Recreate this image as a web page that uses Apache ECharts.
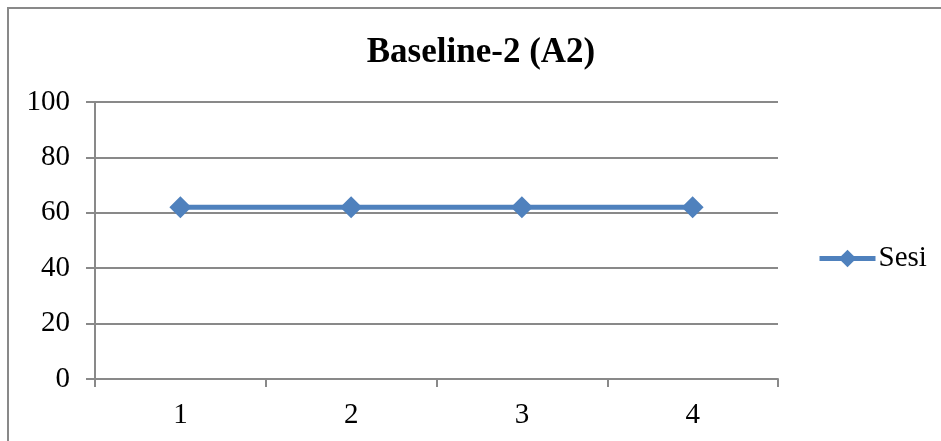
<!DOCTYPE html>
<html>
<head>
<meta charset="utf-8">
<script src="https://cdn.jsdelivr.net/npm/echarts@6/dist/echarts.min.js"></script>
<style>
html,body{margin:0;padding:0;background:#fff;}
#c{width:941px;height:441px;}
</style>
</head>
<body>
<div id="c"></div>
<script>
const titleText = 'Baseline-2 (A2)';
const categories = ['1', '2', '3', '4'];
const seriesName = 'Sesi';
const sesiValues = [62, 62, 62, 62];
const yMin = 0, yMax = 100, yStep = 20;

const gray = '#898989';
const blue = '#4F81BD';
const font = '"Liberation Serif", "Times New Roman", serif';

const chart = echarts.init(document.getElementById('c'), null, {renderer: 'canvas'});
chart.setOption({
  animation: false,
  backgroundColor: '#fff',
  graphic: [{
    type: 'rect',
    shape: {x: 8, y: 8, width: 1200, height: 1200},
    style: {fill: 'none', stroke: gray, lineWidth: 2},
    silent: true
  }],
  title: {
    text: titleText,
    left: 476,
    textAlign: 'center',
    top: 30,
    textStyle: {fontFamily: font, fontWeight: 'bold', fontSize: 35, color: '#000'}
  },
  legend: {
    orient: 'vertical',
    left: 817,
    top: 244,
    padding: 0,
    itemWidth: 56,
    itemHeight: 22,
    itemGap: 5,
    lineStyle: {width: 5},
    textStyle: {fontFamily: font, fontSize: 29, color: '#000', padding: [0, 0, 0, -2]},
    data: [seriesName]
  },
  grid: {left: 95, right: 163, top: 102, bottom: 62, containLabel: false},
  xAxis: {
    type: 'category',
    data: categories,
    boundaryGap: true,
    axisLine: {show: true, lineStyle: {color: gray, width: 2}},
    axisTick: {show: true, length: 8, alignWithLabel: false, lineStyle: {color: gray, width: 2}},
    axisLabel: {fontFamily: font, fontSize: 29, color: '#000', margin: 22},
    splitLine: {show: false}
  },
  yAxis: {
    type: 'value',
    min: yMin,
    max: yMax,
    interval: yStep,
    axisLine: {show: true, lineStyle: {color: gray, width: 2}},
    axisTick: {show: true, length: 9, lineStyle: {color: gray, width: 2}},
    axisLabel: {fontFamily: font, fontSize: 29, color: '#000', margin: 25},
    splitLine: {show: true, lineStyle: {color: gray, width: 2}}
  },
  series: [{
    name: seriesName,
    type: 'line',
    data: sesiValues,
    symbol: 'diamond',
    symbolSize: 22,
    showSymbol: true,
    itemStyle: {color: blue},
    lineStyle: {color: blue, width: 5}
  }]
});
</script>
</body>
</html>
